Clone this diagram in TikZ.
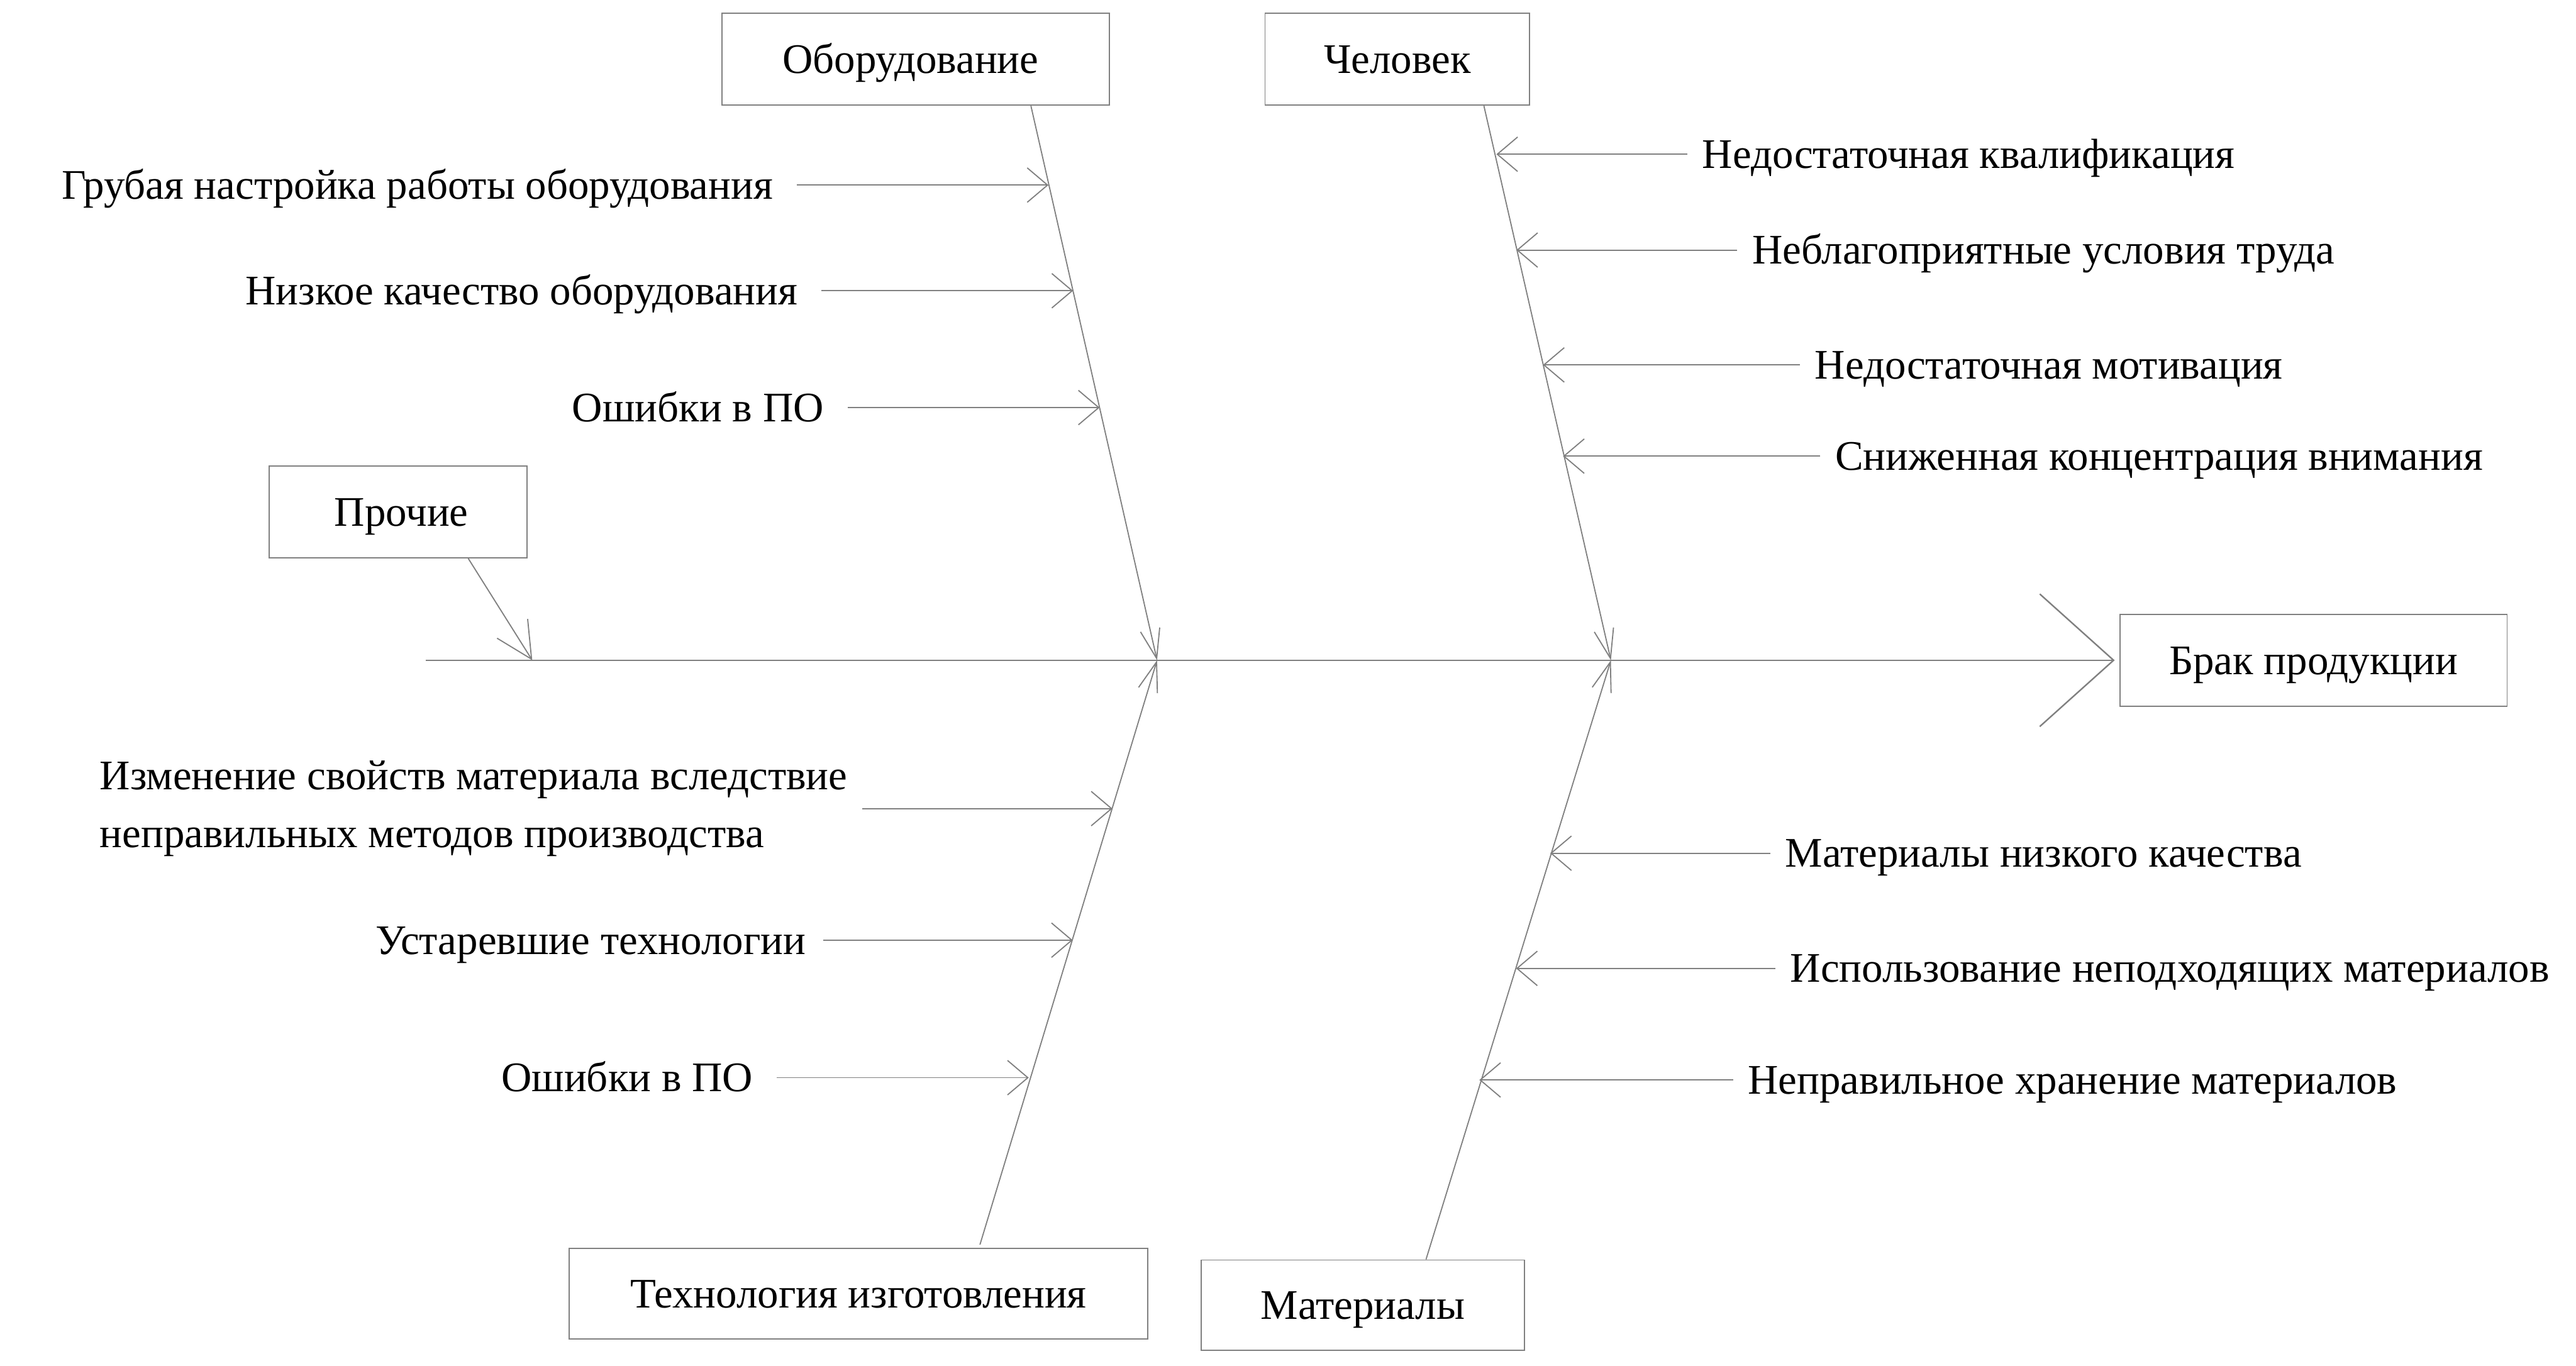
\documentclass[tikz,border=0pt]{standalone}
\usepackage{fontspec}
\setmainfont{Liberation Serif}
\usetikzlibrary{arrows.meta,calc}
\definecolor{lc}{RGB}{128,128,128}
\begin{document}
\begin{tikzpicture}[
  font=\fontsize{36.5}{49.8}\selectfont,
  box/.style={draw=lc, line width=1pt, inner sep=0pt, align=center, text height=0.85cm, text depth=0pt},
  lab/.style={inner ysep=0pt, text height=0.85cm, text depth=0pt},
  labL/.style={lab, anchor=east, inner xsep=0.72cm},
  labR/.style={lab, anchor=west, inner xsep=0.45cm},
  sub/.style={draw=lc, line width=1pt, -{Straight Barb[length=0.62cm,width=1.05cm]}},
  bone/.style={draw=lc, line width=1pt, -{Straight Barb[length=0.9cm,width=0.6cm]}},
  other/.style={draw=lc, line width=1pt, -{Straight Barb[length=1.1cm,width=1.1cm]}},
  spine/.style={draw=lc, line width=1.3pt, -{Straight Barb[length=2.25cm,width=4.04cm]}}
]
\useasboundingbox (0,0) rectangle (78.5,-41.61);

% boxes
\node[box, minimum width=11.80cm, minimum height=2.81cm] (obor) at (27.90,-1.80) {\hspace*{-0.3cm}Оборудование};
\node[box, minimum width=8.06cm, minimum height=2.81cm] (chel) at (42.58,-1.80) {Человек};
\node[box, minimum width=7.86cm, minimum height=2.80cm] (proch) at (12.13,-15.60) {\hspace*{0.2cm}Прочие};
\node[box, minimum width=11.80cm, minimum height=2.80cm] (brak) at (70.50,-20.12) {Брак продукции};
\node[box, minimum width=17.63cm, minimum height=2.75cm] (tech) at (26.16,-39.42) {Технология изготовления};
\node[box, minimum width=9.84cm, minimum height=2.75cm] (mat) at (41.53,-39.77) {Материалы};

% spine
\coordinate (spL) at (12.97,-20.12);
\coordinate (jL) at (35.26,-20.12);
\coordinate (jR) at (49.09,-20.12);
\coordinate (jP) at (16.22,-20.12);
\draw[spine] (spL) -- ([xshift=-0.14cm]brak.west);

% main bones
\draw[bone] ($(obor.south west)!0.797!(obor.south east)$) -- (jL);
\draw[bone] ($(chel.south west)!0.826!(chel.south east)$) -- (jR);
\draw[bone] ($(tech.north west)!0.7096!(tech.north east)+(0,0.1)$) -- (jL);
\draw[bone] ($(mat.north west)!0.695!(mat.north east)$) -- (jR);
\draw[other] ($(proch.south west)!0.771!(proch.south east)$) -- (jP);

% tip coordinates on the bones
\coordinate (a1) at (31.95,-5.64);
\coordinate (a2) at (32.70,-8.86);
\coordinate (a3) at (33.51,-12.42);
\coordinate (b1) at (45.60,-4.70);
\coordinate (b2) at (46.21,-7.62);
\coordinate (b3) at (47.02,-11.12);
\coordinate (b4) at (47.63,-13.90);
\coordinate (c1) at (33.90,-24.64);
\coordinate (c2) at (32.69,-28.65);
\coordinate (c3) at (31.35,-32.84);
\coordinate (d1) at (47.24,-26.00);
\coordinate (d2) at (46.20,-29.51);
\coordinate (d3) at (45.08,-32.91);

% Оборудование causes
\node[labL] (ta1) at (24.28,-5.64) {Грубая настройка работы оборудования};
\node[labL] (ta2) at (25.03,-8.86) {Низкое качество оборудования};
\node[labL] (ta3) at (25.83,-12.42) {Ошибки в ПО};
\draw[sub] (ta1.east) -- (a1);
\draw[sub] (ta2.east) -- (a2);
\draw[sub] (ta3.east) -- (a3);

% Человек causes
\node[labR] (tb1) at (51.42,-4.70) {Недостаточная квалификация};
\node[labR] (tb2) at (52.94,-7.62) {Неблагоприятные условия труда};
\node[labR] (tb3) at (54.85,-11.12) {Недостаточная мотивация};
\node[labR] (tb4) at (55.47,-13.90) {Сниженная концентрация внимания};
\draw[sub] (tb1.west) -- (b1);
\draw[sub] (tb2.west) -- (b2);
\draw[sub] (tb3.west) -- (b3);
\draw[sub] (tb4.west) -- (b4);

% Технология causes
\node[anchor=east, inner ysep=0pt, inner xsep=0.45cm, align=left] (tc1) at (26.28,-24.64) {Изменение свойств материала вследствие\\неправильных методов производства};
\node[labL, inner xsep=0.52cm] (tc2) at (25.08,-28.65) {Устаревшие технологии};
\node[labL] (tc3) at (23.67,-32.84) {Ошибки в ПО};
\draw[sub] (tc1.east) -- (c1);
\draw[sub] (tc2.east) -- (c2);
\draw[sub] (tc3.east) -- (c3);

% Материалы causes
\node[labR] (td1) at (53.95,-26.00) {Материалы низкого качества};
\node[labR] (td2) at (54.10,-29.51) {Использование неподходящих материалов};
\node[labR] (td3) at (52.81,-32.91) {Неправильное хранение материалов};
\draw[sub] (td1.west) -- (d1);
\draw[sub] (td2.west) -- (d2);
\draw[sub] (td3.west) -- (d3);
\end{tikzpicture}
\end{document}
